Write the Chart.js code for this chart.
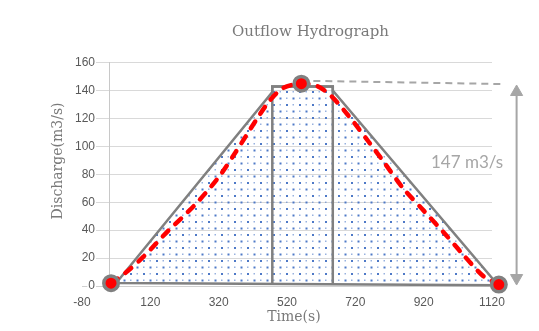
<!DOCTYPE html>
<html><head><meta charset="utf-8">
<script src="https://cdn.jsdelivr.net/npm/chart.js@4"></script>
<style>html,body{margin:0;padding:0;background:#fff}</style>
</head><body>
<canvas id="c" width="539" height="331"></canvas>
<script>
// ---- texts ----
const chartTitle = 'Outflow Hydrograph';
const xTitle = 'Time(s)';
const yTitle = 'Discharge(m3/s)';
const peakLabel = '147 m3/s';
// ---- tick labels ----
const xTicks = [-80, 120, 320, 520, 720, 920, 1120];
const yTicks = [0, 20, 40, 60, 80, 100, 120, 140, 160];
// ---- inflow shape (gray outline, dotted fill) ----
const shapeT = [20, 477, 477, 654, 654, 1138, 20];
const shapeQ = [2.1, 139, 143, 143, 140, 0.6, 2.1];
// ---- time-step rectangle ----
const rectT = [477, 477, 654, 654];
const rectQ = [1.3, 143, 143, 1.2];
// ---- outflow hydrograph (red dashed) ----
const outT = [5, 50, 100, 170, 250, 320, 370, 430, 470, 510, 562, 610, 650, 700, 760, 800, 860, 920, 980, 1030, 1095, 1140];
const outQ = [2, 10, 21, 39, 58, 78, 96, 119, 133, 142, 145, 143, 136, 122, 103, 90, 70, 54, 38, 24, 7, 1];
// ---- highlighted points ----
const markT = [5, 562, 1140];
const markQ = [2, 145, 1];
// ---- peak level guide ----
const peakLineT = [562, 1152];
const peakLineQ = [147.1, 144.7];
// ---- dimension arrow ----
const arrowT = [1192, 1192];
const arrowQ = [139, 5.7];
const peakLabelAt = [1047, 88.8];

const pts = (ts, qs) => ts.map((t, i) => ({x: t, y: qs[i]}));

const canvas = document.getElementById('c');
const ctx = canvas.getContext('2d');

function dotPattern() {
  const c = document.createElement('canvas');
  c.width = 13; c.height = 13;
  const g = c.getContext('2d');
  g.fillStyle = 'rgba(68,114,196,0.95)';
  g.fillRect(0, 0, 2, 2);
  g.fillRect(6.5, 6.5, 2, 2);
  g.fillStyle = 'rgba(68,114,196,0.55)';
  g.fillRect(6.5, 0, 1.5, 1.5);
  g.fillRect(0, 6.5, 1.5, 1.5);
  return ctx.createPattern(c, 'repeat');
}

Chart.defaults.font.family = 'Liberation Sans';

const peakLabelPlugin = {
  id: 'peakLabel',
  afterDatasetsDraw(chart) {
    const {ctx, scales: {x, y}} = chart;
    ctx.save();
    ctx.font = '17px Lato';
    ctx.fillStyle = '#a6a6a6';
    ctx.textAlign = 'center';
    ctx.textBaseline = 'middle';
    ctx.fillText(peakLabel, x.getPixelForValue(peakLabelAt[0]), y.getPixelForValue(peakLabelAt[1]));
    ctx.restore();
  }
};

// let the arrowheads (placed right of the plot area) be drawn
const outsidePoints = {
  id: 'outsidePoints',
  beforeDatasetDraw(chart, args) {
    if (chart.data.datasets[args.index].label === 'arrow') {
      this._savedRight = chart.chartArea.right;
      chart.chartArea.right = chart.width;
    }
  },
  afterDatasetDraw(chart, args) {
    if (chart.data.datasets[args.index].label === 'arrow' && this._savedRight !== undefined) {
      chart.chartArea.right = this._savedRight;
      this._savedRight = undefined;
    }
  }
};

const hidden = () => ({ticks: {display: false}, grid: {display: false, drawTicks: false}, border: {display: false}});
const axisTitleFont = {family: 'DejaVu Serif', size: 14};

new Chart(ctx, {
  type: 'scatter',
  data: {
    datasets: [
      {label: 'points', data: pts(markT, markQ), showLine: false, pointRadius: 7.25, pointBorderWidth: 3.5,
       pointBackgroundColor: '#ff0000', pointBorderColor: '#808080', clip: false, order: 0},
      {label: 'outflow', data: pts(outT, outQ), showLine: true, borderColor: '#ff0000', borderWidth: 4.5,
       borderDash: [8, 9.5], borderCapStyle: 'round', tension: 0.3, pointRadius: 0, clip: false, order: 1},
      {label: 'arrow', data: pts(arrowT, arrowQ), showLine: true, borderColor: '#a6a6a6', borderWidth: 2,
       pointStyle: 'triangle', pointRotation: c => (c.dataIndex === 0 ? 0 : 180), pointRadius: 7, pointBorderWidth: 1,
       pointBackgroundColor: '#a6a6a6', pointBorderColor: '#a6a6a6', clip: false, order: 2},
      {label: 'peak level', data: pts(peakLineT, peakLineQ), showLine: true, borderColor: '#a6a6a6', borderWidth: 2,
       borderDash: [7, 5], pointRadius: 0, clip: false, order: 3},
      {label: 'step', data: pts(rectT, rectQ), showLine: true, borderColor: '#808080', borderWidth: 2.5,
       pointRadius: 0, clip: false, order: 4},
      {label: 'inflow', data: pts(shapeT, shapeQ), showLine: true, borderColor: '#808080', borderWidth: 2.5,
       backgroundColor: dotPattern(), fill: 'shape', pointRadius: 0, clip: false, order: 5}
    ]
  },
  options: {
    responsive: false,
    animation: false,
    events: [],
    layout: {padding: {left: 82, right: 0, top: 0, bottom: 0}},
    plugins: {
      legend: {display: false},
      tooltip: {enabled: false},
      title: {display: true, text: chartTitle, color: '#7a7a7a',
              font: {family: 'DejaVu Serif', size: 15, weight: 'normal'},
              padding: {top: 22.7, bottom: 22}}
    },
    scales: {
      x: {
        type: 'linear', position: 'bottom', min: -80, max: 1120,
        afterBuildTicks: s => { s.ticks = xTicks.map(v => ({value: v})); },
        afterFit: s => { s.height = 45; },
        grid: {display: false, drawTicks: false},
        border: {display: true, color: '#d0d0d0', width: 1},
        ticks: {padding: 9, color: '#595959', font: {size: 12}, callback: v => String(v)}
      },
      xT0: Object.assign(hidden(), {type: 'linear', position: 'bottom', stack: 'xttl', stackWeight: 0.034,
        afterFit: s => { s.height = 0; }}),
      xT: Object.assign(hidden(), {type: 'linear', position: 'bottom', stack: 'xttl', stackWeight: 0.966,
        afterFit: s => { s.height = 0; },
        title: {display: true, text: xTitle, color: '#7a7a7a', font: axisTitleFont, padding: {top: 0, bottom: 5}}}),
      y: {
        type: 'linear', position: {x: 0}, min: 0, max: 160,
        afterBuildTicks: s => { s.ticks = yTicks.map(v => ({value: v})); },
        grid: {color: '#d9d9d9', lineWidth: 1, drawTicks: false},
        border: {display: true, color: '#c8c8c8', width: 1},
        ticks: {display: false}
      },
      yL: {
        type: 'linear', position: 'left', min: 0, max: 160,
        afterBuildTicks: s => { s.ticks = yTicks.map(v => ({value: v})); },
        afterFit: s => { s.width = 0; },
        grid: {display: false, drawTicks: false},
        border: {display: false},
        ticks: {mirror: true, crossAlign: 'far', padding: -7, color: '#595959', font: {size: 12},
                showLabelBackdrop: true, backdropColor: '#ffffff', backdropPadding: {top: 0, bottom: 0, left: 1, right: 1}}
      },
      yT2: Object.assign(hidden(), {type: 'linear', position: 'left', stack: 'ttl', stackWeight: 0.12,
        afterFit: s => { s.width = 0; }}),
      yT: Object.assign(hidden(), {type: 'linear', position: 'left', stack: 'ttl', stackWeight: 0.88,
        afterFit: s => { s.width = 0; },
        title: {display: true, text: yTitle, color: '#7a7a7a', font: axisTitleFont, padding: {top: -32, bottom: 0}}}),
      yR: Object.assign(hidden(), {type: 'linear', position: 'right', afterFit: s => { s.width = 47; }})
    }
  },
  plugins: [peakLabelPlugin, outsidePoints]
});
</script>
</body></html>
